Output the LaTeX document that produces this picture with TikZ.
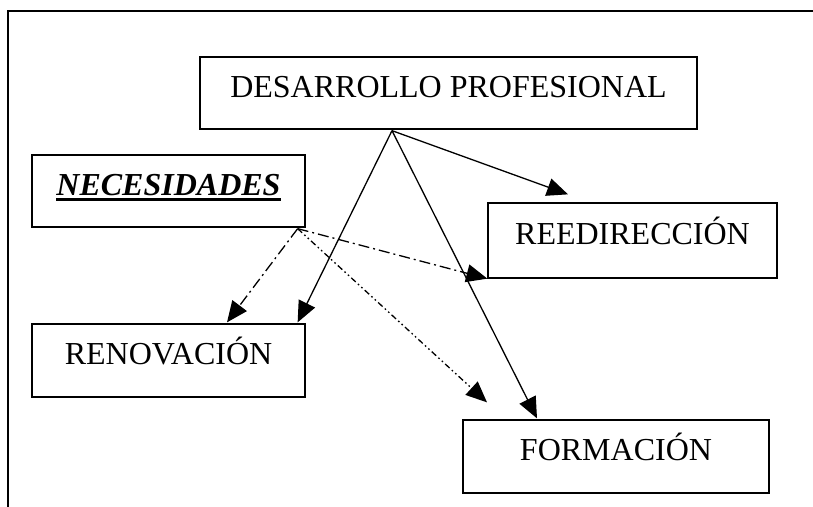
\documentclass[tikz,border=0pt]{standalone}
\usepackage{fontspec}
\setmainfont{Liberation Serif}
\usetikzlibrary{arrows.meta}
\newcommand{\ulthick}[1]{\setbox0\hbox{#1}\rlap{\rule[-6pt]{\wd0}{2.6pt}}\box0}
\tikzset{
  box/.style={draw, line width=1.3pt, inner sep=0pt, text height=22pt, text depth=14pt,
              font=\fontsize{32}{38}\selectfont},
  conn/.style={line width=1.3pt, -{Triangle[length=21pt,width=18pt]}},
  dashdot/.style={conn, dash pattern=on 11pt off 4pt on 2pt off 4pt},
  dashdotdot/.style={conn, dash pattern=on 6pt off 3pt on 1.6pt off 3pt on 1.6pt off 3pt},
  frame/.style={line width=2pt}
}
\begin{document}
\begin{tikzpicture}[x=1pt,y=-1pt]
\useasboundingbox (0,0) rectangle (813,506);
\begin{scope}
\clip (0,0) rectangle (813,506);
\draw[frame] (8,520) -- (8,11) -- (830,11);
\end{scope}

\node[box, minimum width=497pt, minimum height=72pt] (des) at (448.5,93) {DESARROLLO PROFESIONAL};
\node[box, minimum width=273pt, minimum height=72pt] (nec) at (168.5,191) {\bfseries\itshape\ulthick{NECESIDADES}};
\node[box, minimum width=273pt, minimum height=73pt] (ren) at (168.5,360.5) {RENOVACIÓN};
\node[box, minimum width=289pt, minimum height=75pt] (ree) at (632.5,240.5) {REEDIRECCIÓN};
\node[box, minimum width=306pt, minimum height=73pt] (for) at (616,456.5) {FORMACIÓN};

\coordinate (dsrc) at ([xshift=-56.5pt,yshift=-1pt]des.south);
\coordinate (nsrc) at ([xshift=-8pt,yshift=-1pt]nec.south east);
\coordinate (treeA) at ([xshift=-64.5pt,yshift=8pt]ree.north);
\coordinate (trenA) at ([xshift=-8pt,yshift=1pt]ren.north east);
\coordinate (trenB) at ([xshift=58.5pt,yshift=1pt]ren.north);
\coordinate (tforA) at ([xshift=-79pt,yshift=1pt]for.north);
\coordinate (tforB) at ([xshift=-129pt,yshift=17pt]for.north);

\draw[conn] (dsrc) -- (treeA);
\draw[conn] (dsrc) -- (trenA);
\draw[conn] (dsrc) -- (tforA);
\draw[dashdot] (nsrc) -- (trenB);
\draw[dashdot] (nsrc) -- (ree.south west);
\draw[dashdotdot] (nsrc) -- (tforB);
\end{tikzpicture}
\end{document}
